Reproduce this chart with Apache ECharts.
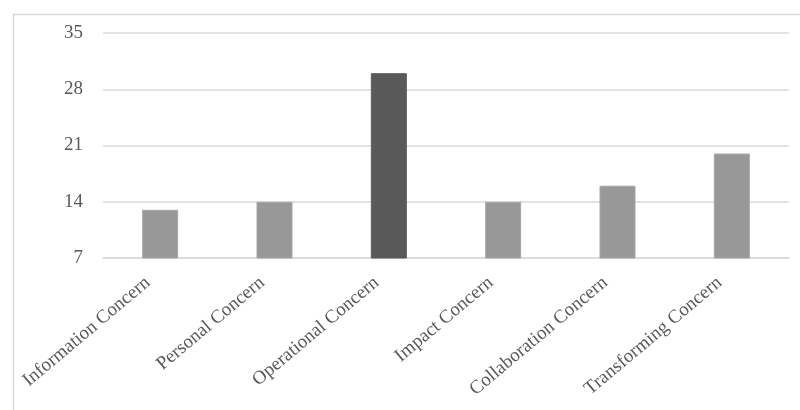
<!DOCTYPE html>
<html>
<head>
<meta charset="utf-8">
<script src="https://cdn.jsdelivr.net/npm/echarts@6/dist/echarts.min.js"></script>
<style>
  html, body { margin: 0; padding: 0; background: #ffffff; }
  #chart { width: 800px; height: 410px; }
</style>
</head>
<body>
<div id="chart"></div>
<script>
// Stages of concern and their scores
const categories = [
  'Information Concern',
  'Personal Concern',
  'Operational Concern',
  'Impact Concern',
  'Collaboration Concern',
  'Transforming Concern'
];
const scores = [13, 14, 30, 14, 16, 20];
// The highest stage is shown in a darker shade
const highlightIndex = 2;
const yTicks = { min: 7, max: 35, interval: 7 };

const chart = echarts.init(document.getElementById('chart'), null, { renderer: 'canvas' });

const labelFont = '"Liberation Serif", "Times New Roman", serif';

chart.setOption({
  animation: false,
  backgroundColor: '#ffffff',
  graphic: [{
    type: 'rect',
    left: 11,
    top: 12,
    shape: { width: 800, height: 410 },
    style: { fill: 'none', stroke: '#d9d9d9', lineWidth: 1.5 },
    silent: true
  }],
  grid: { left: 103, right: 11, top: 33, bottom: 152, containLabel: false },
  xAxis: {
    type: 'category',
    data: categories,
    axisLine: { show: true, lineStyle: { color: '#d9d9d9', width: 1.5 } },
    axisTick: { show: false },
    axisLabel: {
      rotate: 40,
      margin: 12,
      padding: [0, 16, 0, 0],
      color: '#595959',
      fontFamily: labelFont,
      fontSize: 19,
      interval: 0
    }
  },
  yAxis: {
    type: 'value',
    min: yTicks.min,
    max: yTicks.max,
    interval: yTicks.interval,
    axisLine: { show: false },
    axisTick: { show: false },
    splitLine: { lineStyle: { color: '#d9d9d9', width: 1.5 } },
    axisLabel: {
      margin: 20,
      color: '#595959',
      fontFamily: labelFont,
      fontSize: 19
    }
  },
  series: [{
    type: 'bar',
    barWidth: 36,
    data: scores.map((v, i) => ({
      value: v,
      itemStyle: {
        color: i === highlightIndex ? '#595959' : '#989898',
        borderColor: i === highlightIndex ? '#5e5e5e' : '#a6a6a6',
        borderWidth: 1
      }
    }))
  }]
});
</script>
</body>
</html>
